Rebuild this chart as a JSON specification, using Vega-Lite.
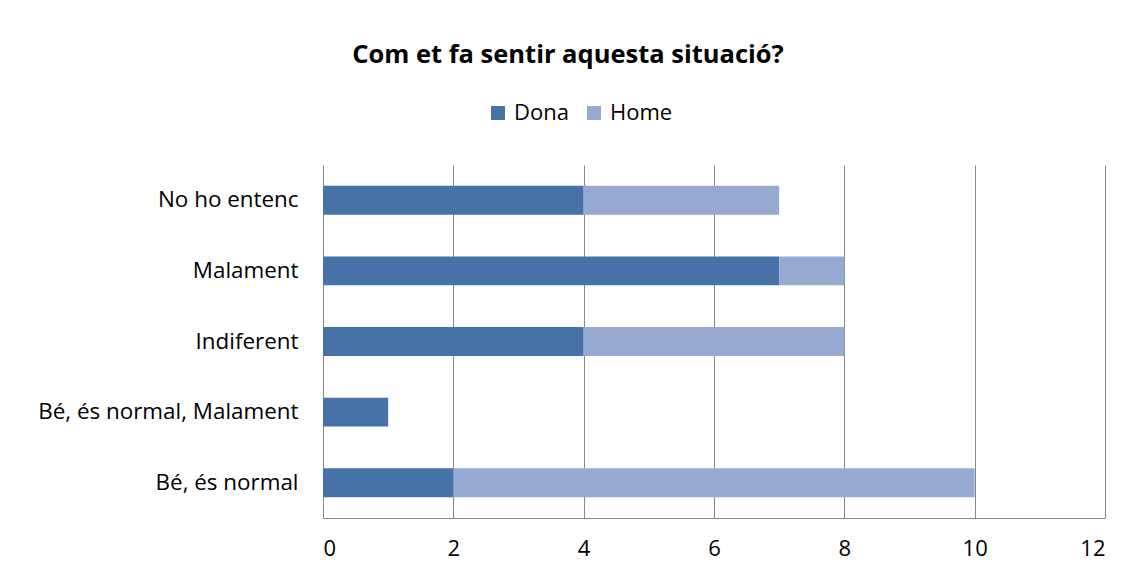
{
  "$schema": "https://vega.github.io/schema/vega-lite/v6.json",
  "width": 782,
  "height": 353,
  "autosize": {"type": "none"},
  "padding": {"left": 323, "top": 165, "right": 32, "bottom": 58},
  "background": "white",
  "title": {
    "text": "Com et fa sentir aquesta situació?",
    "font": "Open Sans",
    "fontSize": 25.5,
    "fontWeight": "bold",
    "color": "#000000",
    "anchor": "middle",
    "dx": -146,
    "offset": 34
  },
  "data": {
    "values": [
      {"cat": "No ho entenc", "sex": "Dona", "n": 4},
      {"cat": "No ho entenc", "sex": "Home", "n": 3},
      {"cat": "Malament", "sex": "Dona", "n": 7},
      {"cat": "Malament", "sex": "Home", "n": 1},
      {"cat": "Indiferent", "sex": "Dona", "n": 4},
      {"cat": "Indiferent", "sex": "Home", "n": 4},
      {"cat": "Bé, és normal, Malament", "sex": "Dona", "n": 1},
      {"cat": "Bé, és normal, Malament", "sex": "Home", "n": 0},
      {"cat": "Bé, és normal", "sex": "Dona", "n": 2},
      {"cat": "Bé, és normal", "sex": "Home", "n": 8}
    ]
  },
  "mark": {"type": "bar"},
  "encoding": {
    "y": {
      "field": "cat",
      "type": "nominal",
      "sort": ["No ho entenc", "Malament", "Indiferent", "Bé, és normal, Malament", "Bé, és normal"],
      "scale": {"paddingInner": 0.59, "paddingOuter": 0.295},
      "axis": {
        "title": null,
        "ticks": false,
        "labelPadding": 25,
        "labelFont": "Open Sans",
        "labelFontSize": 22.4,
        "labelColor": "#000000",
        "domainColor": "#868686",
        "labelLimit": 400
      }
    },
    "x": {
      "field": "n",
      "type": "quantitative",
      "stack": "zero",
      "scale": {"domain": [0, 12], "nice": false},
      "axis": {
        "title": null,
        "values": [0, 2, 4, 6, 8, 10, 12],
        "grid": true,
        "gridColor": "#868686",
        "gridOpacity": 1,
        "ticks": false,
        "labelPadding": 20,
        "labelFont": "Open Sans",
        "labelFontSize": 22,
        "labelColor": "#000000",
        "domainColor": "#868686"
      }
    },
    "color": {
      "field": "sex",
      "type": "nominal",
      "scale": {"domain": ["Dona", "Home"], "range": ["#4672A7", "#95A9D1"]},
      "legend": {
        "title": null,
        "orient": "none",
        "direction": "horizontal",
        "legendX": 164,
        "legendY": -63,
        "symbolType": "square",
        "symbolSize": 196,
        "symbolStrokeWidth": 0,
        "labelFont": "Open Sans",
        "labelFontSize": 22,
        "labelColor": "#000000",
        "columnPadding": 14,
        "symbolOffset": 0,
        "labelOffset": 5
      }
    }
  },
  "config": {"view": {"stroke": null}}
}
